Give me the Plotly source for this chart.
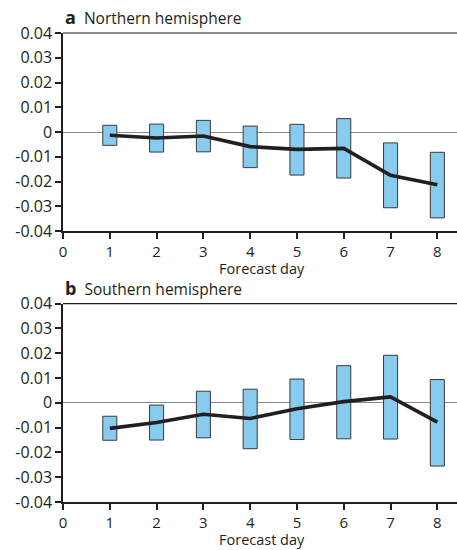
import plotly.graph_objects as go
from plotly.subplots import make_subplots

days = [1, 2, 3, 4, 5, 6, 7, 8]

# Northern hemisphere
nh_low = [-0.0054, -0.0081, -0.0080, -0.0144, -0.0174, -0.0186, -0.0306, -0.0347]
nh_high = [0.0027, 0.0032, 0.0047, 0.0024, 0.0031, 0.0054, -0.0044, -0.0082]
nh_mean = [-0.0013, -0.0024, -0.0016, -0.0059, -0.0070, -0.0066, -0.0175, -0.0213]

# Southern hemisphere
sh_low = [-0.0151, -0.0150, -0.0141, -0.0185, -0.0148, -0.0145, -0.0146, -0.0255]
sh_high = [-0.0054, -0.0009, 0.0047, 0.0055, 0.0096, 0.0150, 0.0192, 0.0094]
sh_mean = [-0.0103, -0.0079, -0.0046, -0.0063, -0.0024, 0.0005, 0.0024, -0.0078]

y_ticks = [0.04, 0.03, 0.02, 0.01, 0, -0.01, -0.02, -0.03, -0.04]
y_tick_text = ["0.04", "0.03", "0.02", "0.01", "0", "-0.01", "-0.02", "-0.03", "-0.04"]
x_ticks = [0, 1, 2, 3, 4, 5, 6, 7, 8]

panel_letters = ["a", "b"]
panel_titles = ["Northern hemisphere", "Southern hemisphere"]
x_title = "Forecast day"

FONT = "Open Sans"
INK = "#231f20"
BAR_FILL = "#87cbef"
BAR_EDGE = "#3a3a3a"

fig = make_subplots(rows=2, cols=1, vertical_spacing=0.155)

panels = [(nh_low, nh_high, nh_mean), (sh_low, sh_high, sh_mean)]
for i, (lo, hi, mn) in enumerate(panels, start=1):
    fig.add_trace(go.Bar(
        x=days, y=[h - l for h, l in zip(hi, lo)], base=lo, width=0.3,
        marker=dict(color=BAR_FILL, line=dict(color=BAR_EDGE, width=1)),
        showlegend=False, hoverinfo="skip"), row=i, col=1)
    fig.add_trace(go.Scatter(
        x=days, y=mn, mode="lines",
        line=dict(color=INK, width=3.6),
        showlegend=False), row=i, col=1)

for i in (1, 2):
    fig.update_xaxes(
        range=[0, 8.42], tickvals=x_ticks, ticks="outside", ticklen=6,
        tickwidth=1.5, tickcolor=INK, showline=True, linecolor=INK,
        linewidth=1.5, showgrid=False, zeroline=False,
        tickfont=dict(family=FONT, size=15, color=INK),
        row=i, col=1)
    fig.update_yaxes(
        range=[-0.04, 0.04], tickvals=y_ticks, ticktext=y_tick_text,
        ticks="outside", ticklen=6, tickwidth=1.5, tickcolor=INK,
        showline=True, linecolor=INK, linewidth=1.5, showgrid=False,
        zeroline=True, zerolinecolor="#8a8a8a", zerolinewidth=1,
        tickfont=dict(family=FONT, size=16, color=INK),
        row=i, col=1)

fig.update_layout(
    width=457, height=550,
    margin=dict(l=63, r=0, t=33, b=48, autoexpand=False),
    plot_bgcolor="white", paper_bgcolor="white",
    barmode="overlay",
)
fig.update_layout(
    xaxis=dict(domain=[0, 1]), yaxis=dict(domain=[0.5778, 1.0]),
    xaxis2=dict(domain=[0, 1]), yaxis2=dict(domain=[0.0, 0.4228]),
)

doms = ("y domain", "y2 domain")
for yref_dom, letter, title in zip(doms, panel_letters, panel_titles):
    # top frame line
    fig.add_shape(type="line", xref="paper", yref=yref_dom,
                  x0=0, x1=1, y0=1, y1=1,
                  line=dict(color=INK, width=1.2), layer="above")
    # panel title
    fig.add_annotation(xref="paper", yref=yref_dom, x=0, y=1, yshift=2,
                       xanchor="left", yanchor="bottom", showarrow=False,
                       text=f"<b><span style='font-size:18px'>{letter}</span></b>  {title}",
                       font=dict(family=FONT, size=15.5, color=INK))
    # x-axis title
    fig.add_annotation(xref="paper", yref=yref_dom, x=0.505, y=0, yshift=-26.5,
                       xanchor="center", yanchor="top", showarrow=False,
                       borderpad=0, text=x_title,
                       font=dict(family=FONT, size=14.5, color=INK))

fig.write_html("out.html", config={"displayModeBar": False},
               post_script="document.body.style.margin='0';document.body.style.overflow='hidden';")
